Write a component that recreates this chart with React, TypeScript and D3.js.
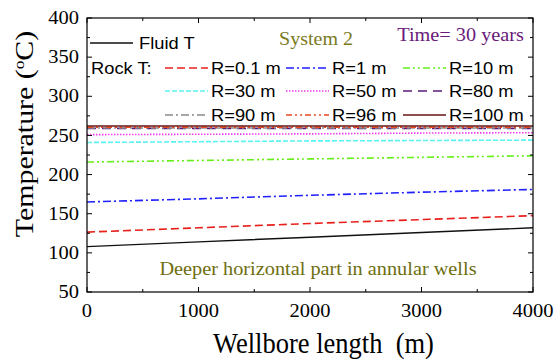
import React, { useEffect, useRef } from 'react';
import * as d3 from 'd3';

// wellbore length positions (m)
const lengths = [0, 1000, 2000, 3000, 4000];

const fluidT = [108, 114, 120, 126, 132];

const rockLabels = ['R=0.1 m', 'R=1 m', 'R=10 m', 'R=30 m', 'R=50 m', 'R=80 m', 'R=90 m', 'R=96 m', 'R=100 m'];
const rockValues = [
  [126.5, 132, 137.5, 142.5, 147.5],
  [165, 169, 173.5, 177.5, 181],
  [216, 218, 220, 222, 224],
  [241, 242, 243, 243.5, 244],
  [251, 251.5, 252, 253, 253.5],
  [259, 259, 259, 259, 259],
  [259.5, 259.5, 259.5, 259.5, 259.5],
  [260.5, 260.5, 260.5, 260.5, 260.5],
  [262, 262, 262, 262, 262],
];
const rockColors = ['#e8201c', '#1f1fff', '#66f01a', '#5cf2f2', '#f03cf0', '#5a1a7a', '#8a8a8a', '#e84a22', '#6a1414'];
const rockDashes = ['8,4', '8,3,2,3', '7,3,2,3,2,3', '5,2', '1.5,1.5', '9,6', '8,3,2,3', '6,3,2,3,2,3', null];

const xTicks = [0, 1000, 2000, 3000, 4000];
const yTicks = [50, 100, 150, 200, 250, 300, 350, 400];

const App = () => {
  const svgRef = useRef<SVGSVGElement>(null);

  useEffect(() => {
    const svg = d3.select(svgRef.current);
    svg.selectAll('*').remove();

    const left = 87, right = 533, top = 18, bottom = 292;
    const x = d3.scaleLinear().domain([0, 4000]).range([left, right]);
    const y = d3.scaleLinear().domain([50, 400]).range([bottom, top]);
    const serif = '"Liberation Serif", "Times New Roman", serif';
    const sans = '"Liberation Sans", Arial, sans-serif';

    // text with a separate vertical stretch, the source image is not uniformly scaled
    const label = (tx: number, ty: number, str: string, size: number, sy: number,
      family: string, anchor = 'start', fill = '#000', rot = 0) => {
      const t = svg.append('g')
        .attr('transform', `translate(${tx},${ty}) scale(1,${sy})${rot ? ` rotate(${rot})` : ''}`)
        .append('text')
        .attr('text-anchor', anchor)
        .attr('fill', fill)
        .style('font-family', family)
        .style('font-size', `${size}px`)
        .attr('xml:space', 'preserve');
      if (str) t.text(str);
      return t;
    };

    const line = d3.line<number>()
      .x((_, i) => x(lengths[i]))
      .y(d => y(d));

    // data lines
    rockValues.forEach((vals, i) => {
      svg.append('path')
        .attr('d', line(vals))
        .attr('fill', 'none')
        .attr('stroke', rockColors[i])
        .attr('stroke-width', 1.6)
        .attr('stroke-dasharray', rockDashes[i]);
    });
    svg.append('path')
      .attr('d', line(fluidT))
      .attr('fill', 'none')
      .attr('stroke', '#111')
      .attr('stroke-width', 1.4);

    // frame
    svg.append('rect')
      .attr('x', left).attr('y', top)
      .attr('width', right - left).attr('height', bottom - top)
      .attr('fill', 'none').attr('stroke', '#000').attr('stroke-width', 1.2);

    // ticks (inward, both sides)
    const g = svg.append('g').attr('stroke', '#000').attr('stroke-width', 1);
    d3.range(0, 4001, 500).forEach(v => {
      const len = v % 1000 === 0 ? 5 : 3;
      g.append('line').attr('x1', x(v)).attr('x2', x(v)).attr('y1', bottom).attr('y2', bottom - len);
      g.append('line').attr('x1', x(v)).attr('x2', x(v)).attr('y1', top).attr('y2', top + len);
    });
    d3.range(50, 401, 25).forEach(v => {
      const len = v % 50 === 0 ? 5 : 3;
      g.append('line').attr('y1', y(v)).attr('y2', y(v)).attr('x1', left).attr('x2', left + len);
      g.append('line').attr('y1', y(v)).attr('y2', y(v)).attr('x1', right).attr('x2', right - len);
    });

    // tick labels
    xTicks.forEach(v => label(x(v), 317, String(v), 20.5, 0.88, serif, 'middle'));
    yTicks.forEach(v => label(79, y(v) + 6.2, String(v), 20.5, 0.88, serif, 'end'));

    // axis titles
    label(323.5, 353, 'Wellbore length  (m)', 26.5, 1.14, serif, 'middle');

    const yt = label(33, 134, '', 26, 1.15, serif, 'middle', '#000', -90);
    yt.append('tspan').text('Temperature (');
    yt.append('tspan').attr('dy', -9).style('font-size', '15px').text('o');
    yt.append('tspan').attr('dy', 9).text('C)');

    // annotations
    label(316, 45, 'System 2', 20, 0.95, serif, 'middle', '#7a7a1e');
    label(524, 40.5, 'Time= 30 years', 20.3, 0.95, serif, 'end', '#6a1a7a');
    label(318, 275, 'Deeper horizontal part in annular wells', 20.3, 0.95, serif, 'middle', '#6e6e10');

    // legend
    const lsize = 18.3, lsy = 0.92;
    svg.append('line').attr('x1', 90).attr('x2', 133).attr('y1', 43).attr('y2', 43)
      .attr('stroke', '#111').attr('stroke-width', 1.4);
    label(139, 49.3, 'Fluid T', lsize, lsy, sans);
    label(91, 74, 'Rock T:', lsize, lsy, sans);

    const colX = [165, 286, 403];
    const rowY = [68, 91, 115];
    rockLabels.forEach((lab, i) => {
      const cx = colX[i % 3];
      const cy = rowY[Math.floor(i / 3)];
      svg.append('line')
        .attr('x1', cx).attr('x2', cx + 43).attr('y1', cy).attr('y2', cy)
        .attr('stroke', rockColors[i]).attr('stroke-width', 1.6)
        .attr('stroke-dasharray', rockDashes[i]);
      label(cx + 46, cy + 6, lab, lsize, lsy, sans);
    });
  }, []);

  return (
    <svg ref={svgRef} width={555} height={361}
      style={{ position: 'absolute', left: 0, top: 0, background: '#fff' }} />
  );
};

export default App;
